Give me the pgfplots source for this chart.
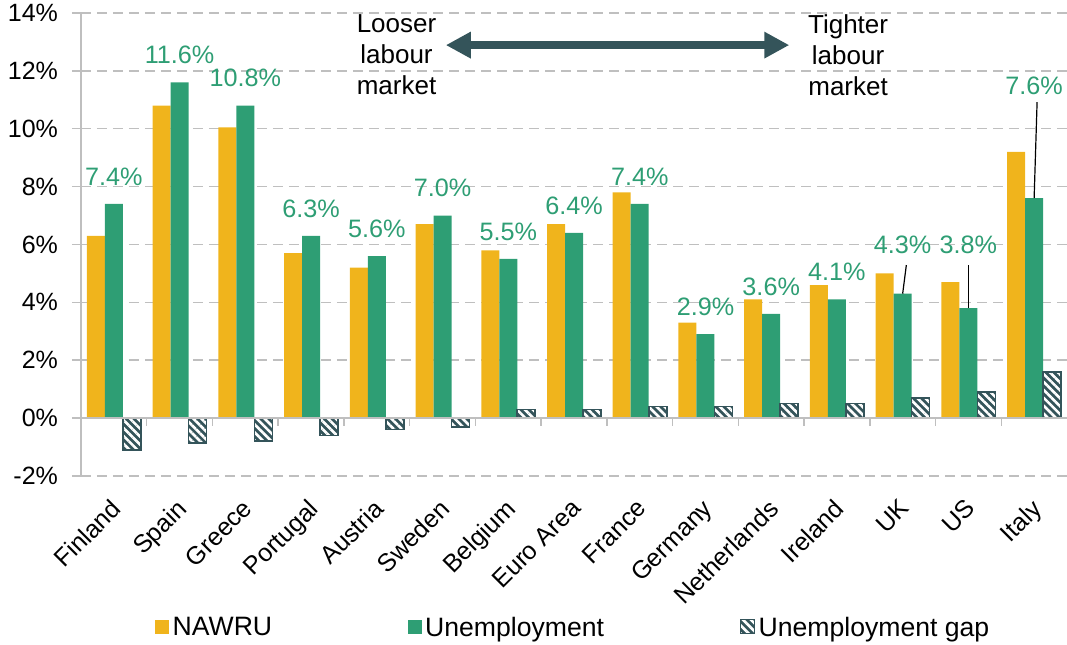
\documentclass[border=0pt]{standalone}
\usepackage{fontspec}
\setmainfont{Liberation Sans}
\usepackage{pgfplots}
\pgfplotsset{compat=1.18}
\usepackage{pgfplotstable}
\usetikzlibrary{patterns.meta,arrows.meta}

\definecolor{nawru}{HTML}{F0B41C}
\definecolor{unemp}{HTML}{2E9E74}
\definecolor{gapc}{HTML}{34545A}
\definecolor{gridc}{HTML}{BFBFBF}

% lift = how far (pt) the value label sits above the green bar
\pgfplotstableread{
x nawru unemp gap lift
0 6.3 7.4 -1.1 9
1 10.8 11.6 -0.85 9
2 10.05 10.8 -0.8 9
3 5.7 6.3 -0.6 9
4 5.2 5.6 -0.4 9
5 6.7 7.0 -0.3 9
6 5.8 5.5 0.3 9
7 6.7 6.4 0.3 9
8 7.8 7.4 0.4 9
9 3.3 2.9 0.4 9
10 4.1 3.6 0.5 9
11 4.6 4.1 0.5 9
12 5.0 4.3 0.7 19.8
13 4.7 3.8 0.9 27
14 9.2 7.6 1.6 51.5
}\data

\pgfplotsset{sq legend/.style={legend image code/.code={\path[##1] (0pt,-2.8pt) rectangle (7pt,4.2pt);}}}

\begin{document}
\begin{tikzpicture}
\begin{axis}[
  name=ax,
  scale only axis,
  width=493pt, height=231.5pt,
  xmin=-0.5, xmax=14.5,
  ymin=-2, ymax=14,
  clip=false,
  ytick={-2,0,...,14},
  yticklabel={\pgfmathprintnumber{\tick}\%},
  /pgf/number format/assume math mode=true,
  xtick={0,...,14},
  xticklabels={Finland,Spain,Greece,Portugal,Austria,Sweden,Belgium,Euro Area,France,Germany,Netherlands,Ireland,UK,US,Italy},
  axis x line*=bottom, axis y line*=left,
  x axis line style={draw=none},
  y axis line style={draw=gridc, line width=0.75pt, -},
  xtick style={draw=none},
  ytick style={draw=gridc, line width=0.75pt},
  tick align=outside,
  major tick length=4.5pt,
  ymajorgrids,
  grid style={gridc, line width=0.75pt, dash pattern=on 5pt off 3pt},
  ybar=0pt, bar width=9pt,
  tick label style={font=\fontsize{12.5}{14}\selectfont},
  yticklabel style={xshift=-3.5pt},
  xticklabel style={rotate=45, anchor=north east, inner sep=0pt, xshift=-5.8pt, yshift=-2.9pt},
  legend style={at={(0.5,0)}, anchor=center, yshift=-76pt, draw=none,
    font=\fontsize{13.3}{15}\selectfont, nodes={inner sep=1.75pt},
    /tikz/every even column/.append style={column sep=66pt}},
  legend columns=-1,
]
\addplot[fill=nawru, draw=none, sq legend] table[x=x, y=nawru] {\data};
\addplot[fill=unemp, draw=none, sq legend,
  point meta=y,
  nodes near coords={\pgfmathprintnumber[fixed,fixed zerofill,precision=1]{\pgfplotspointmeta}\%},
  visualization depends on={\thisrow{lift} \as \lift},
  every node near coord/.append style={font=\fontsize{12.6}{14}\selectfont, text=unemp, anchor=south, inner sep=0pt, yshift=\lift}]
  table[x=x, y=unemp] {\data};
\addplot[draw=gapc, line width=0.8pt, preaction={fill=gapc},
  pattern={Lines[angle=-45, distance=2.8pt, line width=1.3pt]}, pattern color=white, sq legend]
  table[x=x, y=gap] {\data};
\legend{NAWRU, Unemployment, Unemployment gap}

% solid zero line with category separators
\draw[gridc, line width=0.75pt] (axis cs:-0.5,0) -- (axis cs:14.5,0);
\pgfplotsinvokeforeach{0.5,1.5,...,13.5}{\draw[gridc, line width=0.75pt] (axis cs:#1,0) -- ([yshift=-4pt]axis cs:#1,0);}

% leader lines for the moved labels
\draw[black, line width=0.6pt] (axis cs:12,4.3) -- (axis cs:12.056,5.29);
\draw[black, line width=0.6pt] (axis cs:13,3.8) -- (axis cs:13,5.29);
\draw[black, line width=0.6pt] (axis cs:14,7.6) -- (axis cs:14.045,10.92);

\node[align=center, font=\fontsize{13}{15.5}\selectfont] at (axis cs:4.30,12.55) {Looser\\labour\\market};
\node[align=center, font=\fontsize{13}{15.5}\selectfont] at (axis cs:11.17,12.55) {Tighter\\labour\\market};
\draw[gapc, line width=4pt, {Triangle[length=12.5pt,width=12.5pt]}-{Triangle[length=12.5pt,width=12.5pt]}]
  (axis cs:5.05,12.89) -- (axis cs:10.275,12.89);
\end{axis}
\pgfresetboundingbox
\path ([shift={(-40.5pt,-84.5pt)}]ax.south west) rectangle ([shift={(0pt,6.5pt)}]ax.north east);
\end{tikzpicture}
\end{document}
